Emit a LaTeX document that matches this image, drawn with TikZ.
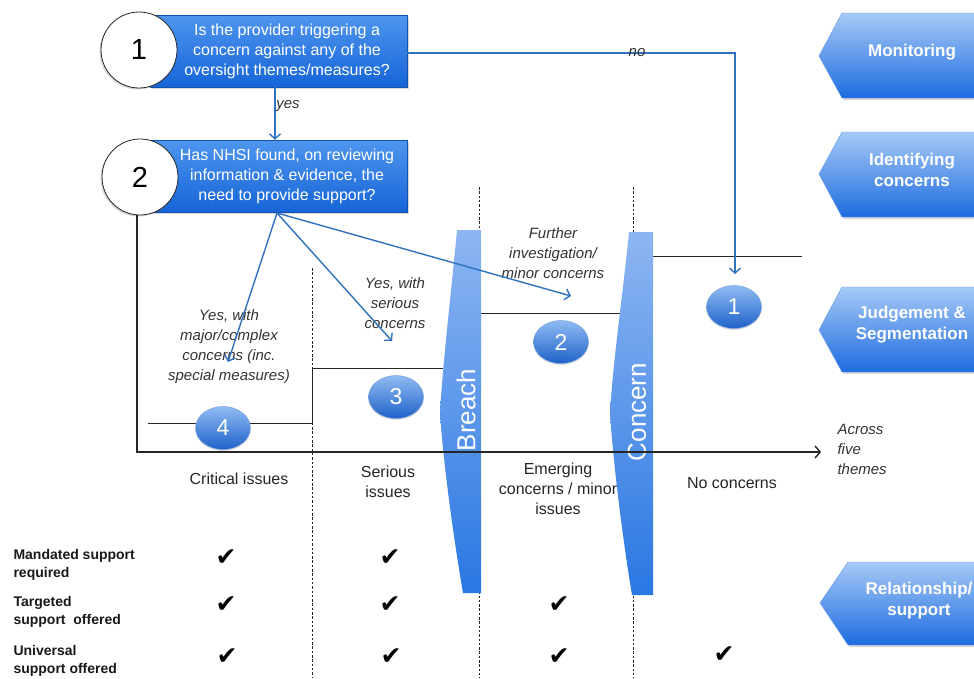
\documentclass[tikz,border=0pt]{standalone}
\usepackage{fontspec}
\setmainfont{Liberation Sans}
\newfontfamily\symf{DejaVu Sans}
\usetikzlibrary{arrows.meta,shadows,shapes.geometric,calc}
\definecolor{arrowblue}{HTML}{2F72BE}
\definecolor{boxtop}{HTML}{4E95EE}
\definecolor{boxbot}{HTML}{1665D8}
\definecolor{chevtop}{HTML}{A6C9F6}
\definecolor{chevbot}{HTML}{1D6CE0}
\definecolor{bartop}{HTML}{8DB6F2}
\definecolor{barbot}{HTML}{2A77E2}
\definecolor{elltop}{HTML}{90BBF4}
\definecolor{ellbot}{HTML}{1E62C8}
\begin{document}
\begin{tikzpicture}[x=1pt,y=-1pt,
  qbox/.style={rectangle, minimum width=257pt, minimum height=72pt, inner sep=0pt,
    top color=boxtop, bottom color=boxbot, draw=boxbot!80!black, line width=0.5pt,
    drop shadow={shadow xshift=2pt, shadow yshift=-2pt, opacity=0.3}},
  qtext/.style={text=white, align=center, font=\fontsize{16}{20}\selectfont},
  numcirc/.style={circle, draw=black!85, fill=white, minimum size=76pt, inner sep=0pt,
    line width=0.8pt, font=\fontsize{29}{29}\selectfont,
    drop shadow={shadow xshift=-1.5pt, shadow yshift=-1.5pt, opacity=0.3}},
  bluecirc/.style={ellipse, minimum width=55pt, minimum height=43pt, inner sep=0pt,
    top color=elltop, bottom color=ellbot, draw=ellbot!60!white, line width=0.5pt,
    text=white, font=\fontsize{23}{23}\selectfont,
    drop shadow={shadow xshift=0pt, shadow yshift=-1.5pt, opacity=0.25}},
  chevshape/.style={top color=chevtop, bottom color=chevbot, draw=chevbot!70!white, line width=0.4pt,
    drop shadow={shadow xshift=2pt, shadow yshift=-2pt, opacity=0.3}},
  chevtext/.style={text=white, align=center, font=\bfseries\fontsize{17}{21}\selectfont},
  lbl/.style={font=\itshape\fontsize{15}{20}\selectfont, text=black!80, align=center},
  collbl/.style={font=\fontsize{16}{20}\selectfont, text=black!85, align=center},
  rowlbl/.style={font=\bfseries\fontsize{14}{18}\selectfont, text=black!90, align=left, anchor=west},
  chk/.style={font=\symf\fontsize{25}{25}\selectfont, text=black},
  barrow/.style={draw=arrowblue, line width=1.4pt, -{Straight Barb[length=5pt,width=11pt,line width=1.4pt]}},
  axisline/.style={draw=black!85, line width=1.6pt, -{Straight Barb[length=5pt,width=12pt,line width=1.4pt]}},
  stepline/.style={draw=black!85, line width=0.9pt},
  dotline/.style={draw=black!85, line width=0.8pt, dash pattern=on 2.5pt off 1.8pt}
]
\clip (0,0) rectangle (974,678);
\fill[white] (0,0) rectangle (974,678);

% dotted column separators
\coordinate (d1t) at (312,268); \coordinate (d1b) at (312,678);
\coordinate (d2t) at (479,187); \coordinate (d2b) at (479,678);
\coordinate (d3t) at (633,187); \coordinate (d3b) at (633,678);
\draw[dotline] (d1t) -- (d1b);
\draw[dotline] (d2t) -- (d2b);
\draw[dotline] (d3t) -- (d3b);

% step lines
\coordinate (s1) at (148,423); \coordinate (s2) at (312,423);
\coordinate (s3) at (312,368); \coordinate (s4) at (443,368);
\coordinate (s5) at (481,313); \coordinate (s6) at (620,313);
\coordinate (s7) at (653,256); \coordinate (s8) at (802,256);
\draw[stepline] (s1) -- (s2) -- (s3) -- (s4);
\draw[stepline] (s5) -- (s6);
\draw[stepline] (s7) -- (s8);

% Breach and Concern bars
\shade[top color=bartop, bottom color=barbot] (481,230) -- (481,593) -- (463,593)
  .. controls (453,535) and (443,460) .. (440,413)
  .. controls (443,360) and (452,285) .. (457,230) -- cycle;
\shade[top color=bartop, bottom color=barbot] (653,232) -- (653,595) -- (632,595)
  .. controls (622,535) and (613,460) .. (610,413)
  .. controls (613,360) and (624,285) .. (629,232) -- cycle;
\node[rotate=90, text=white, font=\fontsize{26}{26}\selectfont] (breach) at (466,410) {Breach};
\node[rotate=90, text=white, font=\fontsize{26}{26}\selectfont] (concern) at (637,412) {Concern};

% question boxes
\node[qbox] (q1) at (278.5,51) {};
\node[qtext] (q1t) at (287,51) {Is the provider triggering a\\concern against any of the\\oversight themes/measures?};
\node[qbox] (q2) at (278.5,176) {};
\node[qtext] (q2t) at (287,176) {Has NHSI found, on reviewing\\information \& evidence, the\\need to provide support?};
\node[numcirc] (c1) at (139,50) {1};
\node[numcirc] (c2) at (140,177) {2};

% yes / no
\draw[barrow] ([xshift=-3.5pt]q1.south) -- ([xshift=-3.5pt]q2.north);
\node[lbl, font=\itshape\fontsize{15}{18}\selectfont] (yes) at (288,106) {yes};
\coordinate (noend) at (735,274);
\draw[barrow] ([yshift=-2pt]q1.east) -| (noend);
\node[lbl] (no) at (637,53) {no};

% axis
\coordinate (ax0) at (137,452);
\coordinate (ax1) at (821,452);
\draw[axisline] (c2.south -| ax0) -- (ax0) -- (ax1);

% right-hand chevrons
\path[chevshape] (842,13) -- (980,13) -- (980,98) -- (842,98) -- (819,56) -- cycle;
\node[chevtext] (mon) at (912,52) {Monitoring};
\path[chevshape] (842,132) -- (980,132) -- (980,217) -- (842,217) -- (819,174) -- cycle;
\node[chevtext] (ide) at (912,170) {Identifying\\concerns};
\path[chevshape] (842,287) -- (980,287) -- (980,372) -- (842,372) -- (819,330) -- cycle;
\node[chevtext] (jud) at (912,325) {Judgement \&\\Segmentation};
\path[chevshape] (848,562) -- (980,562) -- (980,645) -- (848,645) -- (820,603) -- cycle;
\node[chevtext] (rel) at (919,601) {Relationship/\\support};

% blue numbered ellipses
\node[bluecirc] (e1) at (734,307) {1};
\node[bluecirc] (e2) at (561,342) {2};
\node[bluecirc] (e3) at (396,397) {3};
\node[bluecirc] (e4) at (223,428) {4};

% branch labels
\node[lbl] (l4) at (229,347) {Yes, with\\major/complex\\concerns (inc.\\special measures)};
\node[lbl] (l3) at (395,303) {Yes, with\\serious\\concerns};
\node[lbl] (l2) at (553,253) {Further\\investigation/\\minor concerns};
\node[lbl, align=left, anchor=west] (across) at (834,449) {Across\\five\\themes};

% branch arrows
\coordinate (fan) at (277,213);
\coordinate (t4) at (228,362);
\coordinate (t3) at (392,341);
\coordinate (t2) at (571,296);
\draw[barrow] (fan) -- (t4);
\draw[barrow] (fan) -- (t3);
\draw[barrow] (fan) -- (t2);

% column labels
\node[collbl] (k4) at (239,479) {Critical issues};
\node[collbl] (k3) at (388,482) {Serious\\issues};
\node[collbl] (k2) at (558,489) {Emerging\\concerns / minor\\issues};
\node[collbl] (k1) at (732,483) {No concerns};

% row labels
\node[rowlbl] (r1) at (10,565) {Mandated support\\required};
\node[rowlbl] (r2) at (10,612) {Targeted\\support\ \ offered};
\node[rowlbl] (r3) at (10,661) {Universal\\support offered};

% check marks
\foreach \n/\x/\y in {a/226/558, b/390/558, c/226/605, d/390/605, e/559/605, f/227/657, g/391/657, h/559/657, i/724/655}
  \node[chk] (chk\n) at (\x,\y) {✔};
\end{tikzpicture}
\end{document}
